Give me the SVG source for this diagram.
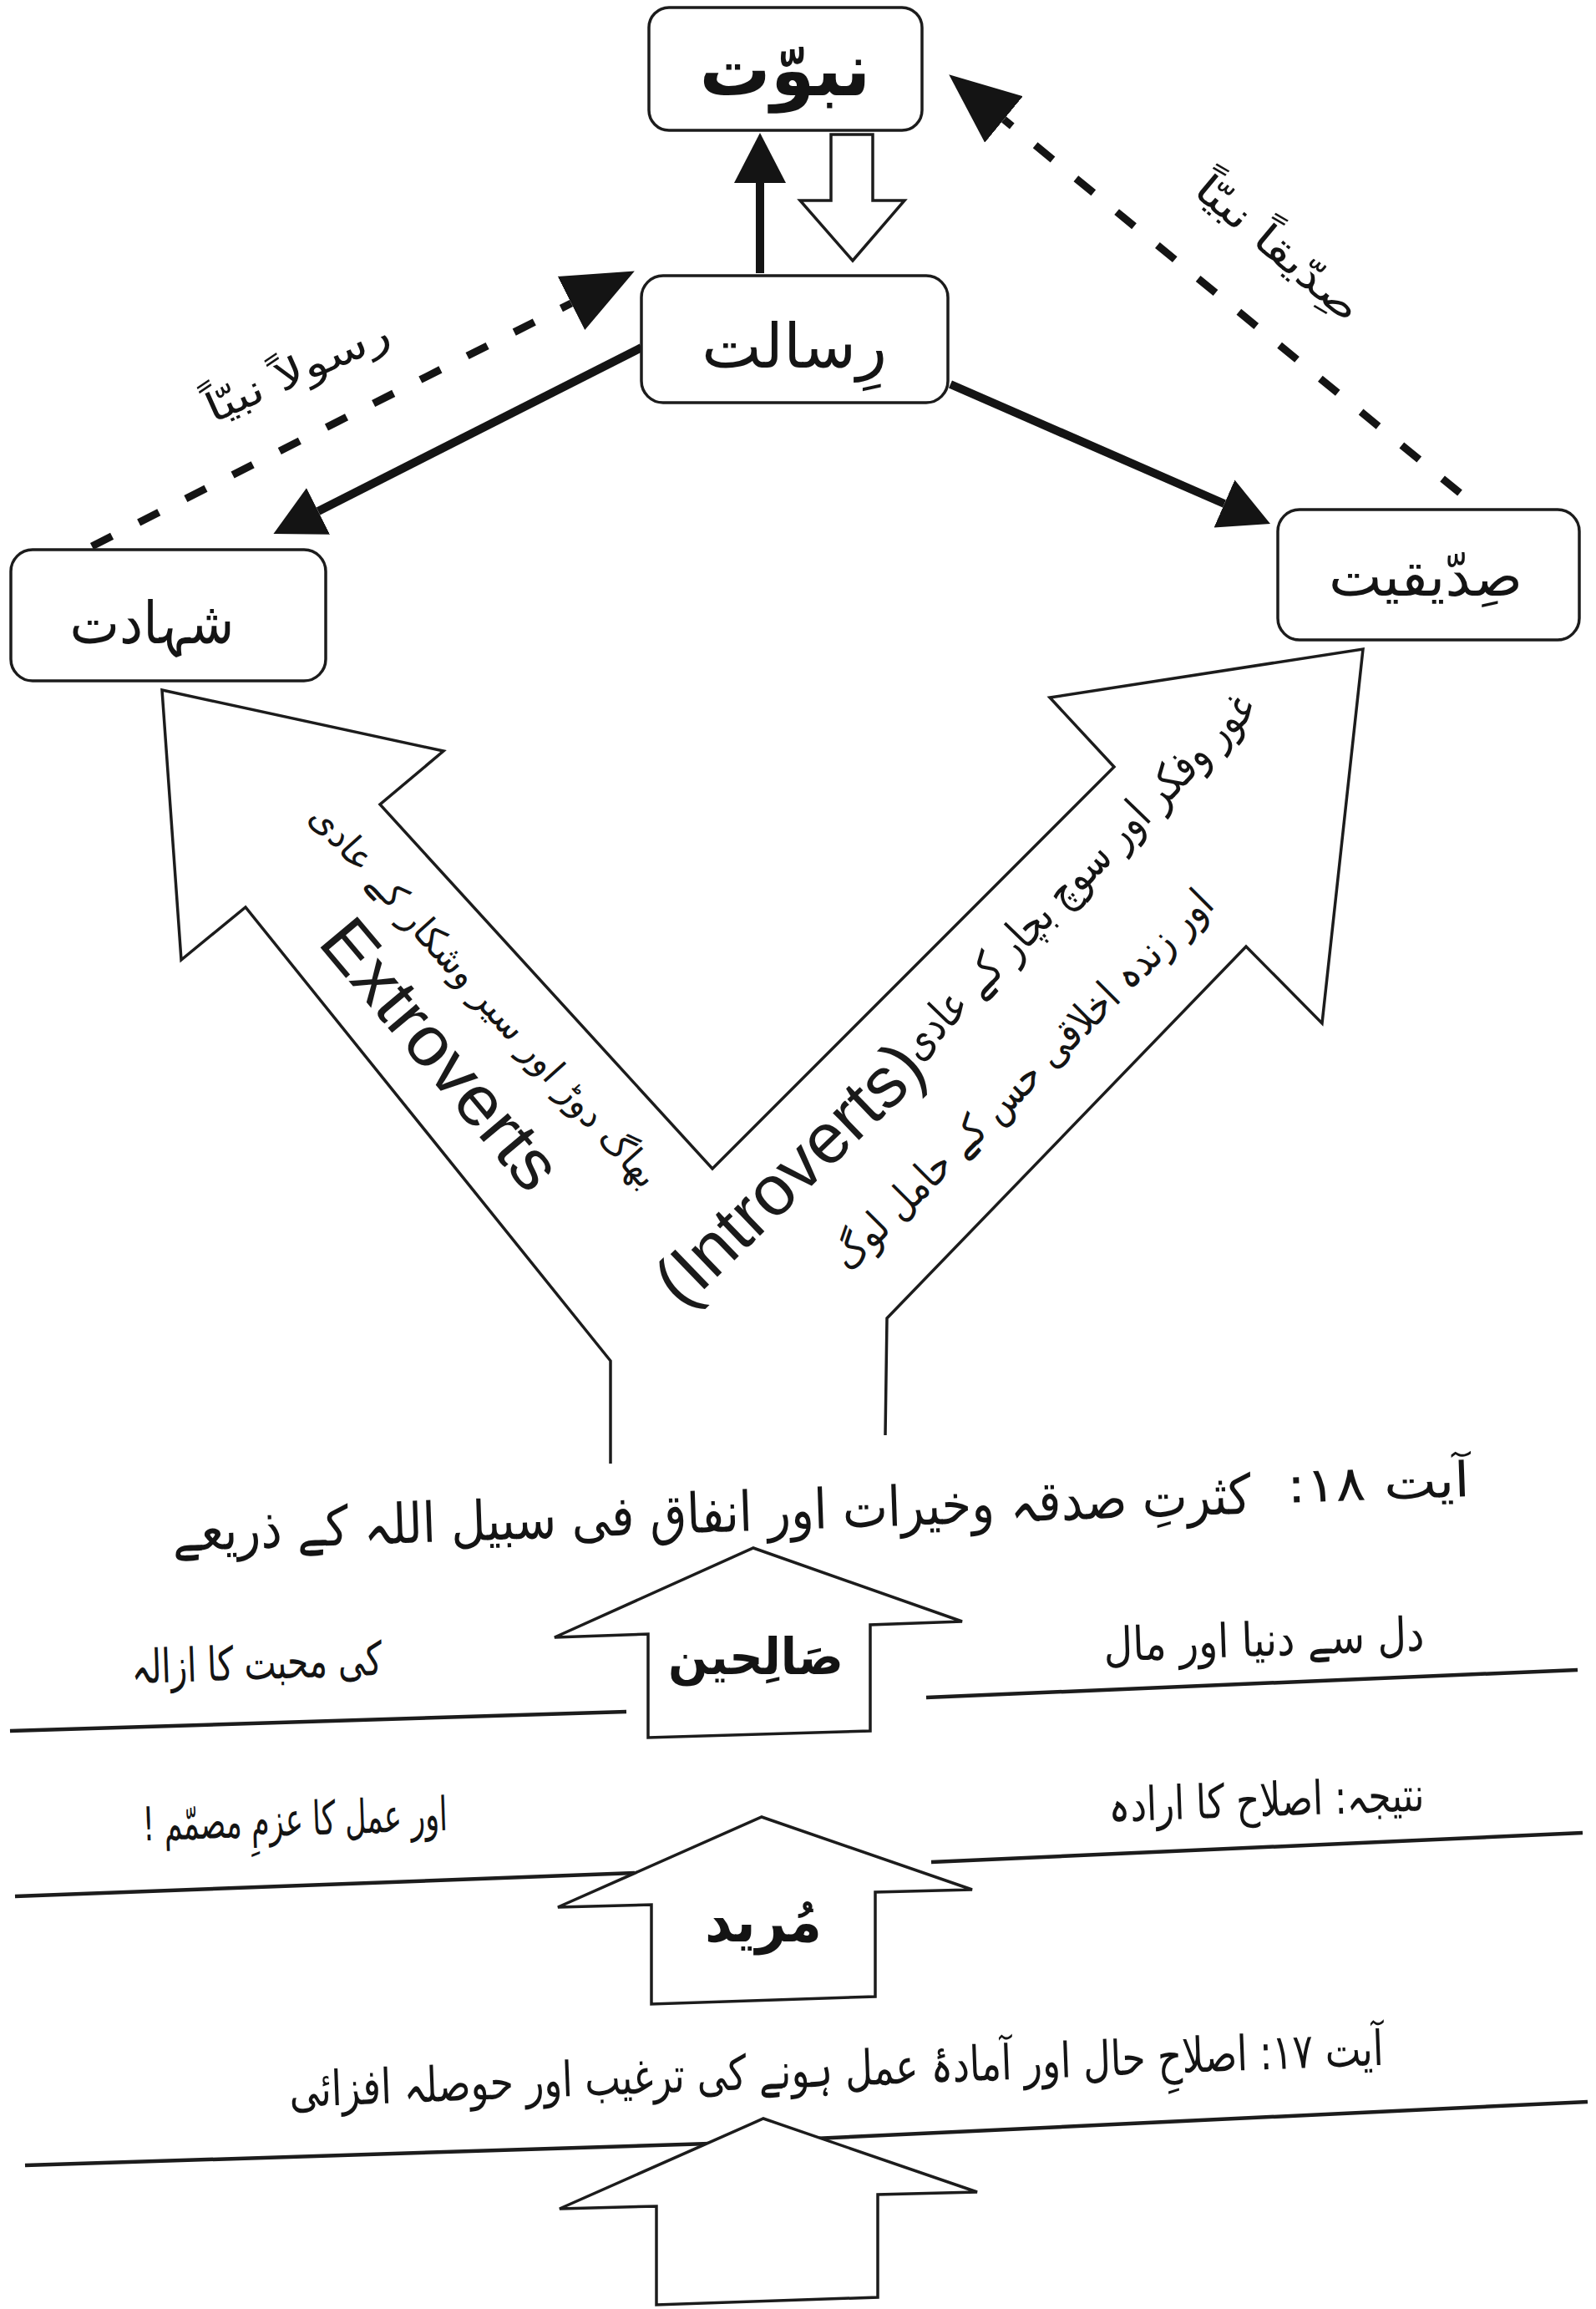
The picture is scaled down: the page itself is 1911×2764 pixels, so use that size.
<svg xmlns="http://www.w3.org/2000/svg" width="1911" height="2764" viewBox="0 0 1911 2764">
<style>
.box{fill:#fff;stroke:#1c1c1c;stroke-width:3.5}
.ur{font-family:'DejaVu Sans','Noto Sans',sans-serif;fill:#141414}
.en{font-family:'Liberation Sans',Arial,sans-serif;fill:#1a1a1a}
.solid{stroke:#141414;stroke-width:10;fill:none}
.dash{stroke:#141414;stroke-width:9;fill:none;stroke-dasharray:27 36}
.hollow{fill:#fff;stroke:#1c1c1c;stroke-width:3.5;stroke-linejoin:miter}
.rule{stroke:#1c1c1c;stroke-width:4.5;fill:none}
</style>
<defs>
<marker id="hs" markerUnits="userSpaceOnUse" viewBox="0 -33 62 66" markerWidth="62" markerHeight="66" refX="0" refY="0" orient="auto"><path d="M0,-31 L60,0 L0,31 Z" fill="#141414"/></marker>
<marker id="hd" markerUnits="userSpaceOnUse" viewBox="0 -38 88 76" markerWidth="88" markerHeight="76" refX="0" refY="0" orient="auto"><path d="M0,-36 L85,0 L0,36 Z" fill="#141414"/></marker>
</defs>
<rect width="1911" height="2764" fill="#fff"/>

<g id="connectors">
<path class="solid" d="M910,327 L910,219" marker-end="url(#hs)"/>
<path class="solid" d="M768,416 L381,612" marker-end="url(#hs)"/>
<path class="solid" d="M1138,460 L1466,603" marker-end="url(#hs)"/>
<path class="dash" d="M110,654 L684,363" marker-end="url(#hd)"/>
<path class="dash" d="M1748,590 L1202,143" marker-end="url(#hd)"/>
<polygon class="hollow" points="995,161 1045,161 1045,240 1083,240 1021,312 958,240 995,240"/>
<text class="ur" direction="rtl" text-anchor="middle" font-size="48" textLength="236" lengthAdjust="spacingAndGlyphs" transform="translate(357,446) rotate(-24)" y="14">رسولاً نبیّاً</text>
<text class="ur" direction="rtl" text-anchor="middle" font-size="48" textLength="243" lengthAdjust="spacingAndGlyphs" transform="translate(1529,299) rotate(40)" y="14">صِدّیقاً نبیّاً</text>
</g>

<g id="node-nabuwwat">
<rect class="box" x="777" y="9" width="327" height="147" rx="24"/>
<text class="ur" direction="rtl" text-anchor="middle" font-size="88" font-weight="bold" x="940" y="114" textLength="205" lengthAdjust="spacingAndGlyphs">نبوّت</text>
</g>
<g id="node-risalat">
<rect class="box" x="768" y="330" width="367" height="152" rx="26"/>
<text class="ur" direction="rtl" text-anchor="middle" font-size="74" x="951" y="440" textLength="222" lengthAdjust="spacingAndGlyphs">رِسالت</text>
</g>
<g id="node-shahadat">
<rect class="box" x="13" y="658" width="377" height="157" rx="26"/>
<text class="ur" direction="rtl" text-anchor="middle" font-size="70" x="182" y="770" textLength="197" lengthAdjust="spacingAndGlyphs">شہادت</text>
</g>
<g id="node-siddiqiyat">
<rect class="box" x="1530" y="610" width="361" height="156" rx="26"/>
<text class="ur" direction="rtl" text-anchor="middle" font-size="66" x="1707" y="713" textLength="232" lengthAdjust="spacingAndGlyphs">صِدّیقیت</text>
</g>

<g id="y-arrow">
<polyline class="hollow" points="731,1752 731,1629 294,1086 217,1149 194,826 531,899 455,963 853,1399 1334,918 1257,835 1632,777 1583,1225 1492,1133 1062,1578 1060,1718"/>
<text class="ur" direction="rtl" text-anchor="middle" font-size="44" textLength="600" lengthAdjust="spacingAndGlyphs" transform="translate(578,1194) rotate(48)" y="12">بھاگ دوڑ اور سیر وشکار کے عادی</text>
<text class="en" text-anchor="middle" font-size="84" textLength="395" lengthAdjust="spacingAndGlyphs" transform="translate(506,1280) rotate(50)">Extroverts</text>
<text class="en" text-anchor="middle" font-size="85" textLength="410" lengthAdjust="spacingAndGlyphs" transform="translate(965,1426) rotate(-44)">(Introverts)</text>
<text class="ur" direction="rtl" text-anchor="middle" font-size="54" textLength="585" lengthAdjust="spacingAndGlyphs" transform="translate(1293,1051) rotate(-46)" y="14">غور وفکر اور سوچ بچار کے عادی</text>
<text class="ur" direction="rtl" text-anchor="middle" font-size="50" textLength="620" lengthAdjust="spacingAndGlyphs" transform="translate(1228,1296) rotate(-45)" y="12">اور زندہ اخلاقی حس کے حامل لوگ</text>
</g>

<g id="ayat-18">
<text class="ur" direction="rtl" text-anchor="middle" font-size="58" x="1651" y="1795" textLength="219" lengthAdjust="spacingAndGlyphs" transform="rotate(-2 1651 1795)">آیت ۱۸:</text>
<text class="ur" direction="rtl" text-anchor="middle" font-size="66" x="853" y="1834" textLength="1292" lengthAdjust="spacingAndGlyphs" transform="rotate(-2 853 1834)">کثرتِ صدقہ وخیرات اور انفاق فی سبیل اللہ کے ذریعے</text>
</g>

<g id="rules">
<path class="rule" d="M12,2072 L750,2049"/>
<path class="rule" d="M1109,2032 L1889,1999"/>
<path class="rule" d="M18,2270 L760,2242"/>
<path class="rule" d="M1115,2229 L1895,2194"/>
<path class="rule" d="M30,2592 L850,2566"/>
<path class="rule" d="M975,2560 L1901,2516"/>
</g>

<g id="node-salihin">
<polygon class="hollow" points="902,1853 1152,1941 1042,1945 1042,2072 776,2080 776,1956 664,1960"/>
<text class="ur" direction="rtl" text-anchor="middle" font-size="60" font-weight="bold" x="905" y="2004" textLength="210" lengthAdjust="spacingAndGlyphs">صَالِحین</text>
</g>
<g id="row-1">
<text class="ur" direction="rtl" text-anchor="middle" font-size="56" x="1514" y="1982" textLength="384" lengthAdjust="spacingAndGlyphs" transform="rotate(-2 1514 1982)">دل سے دنیا اور مال</text>
<text class="ur" direction="rtl" text-anchor="middle" font-size="56" x="308" y="2010" textLength="300" lengthAdjust="spacingAndGlyphs" transform="rotate(-2 308 2010)">کی محبت کا ازالہ</text>
</g>

<g id="node-murid">
<polygon class="hollow" points="912,2175 1164,2262 1048,2265 1048,2390 780,2399 780,2280 668,2283"/>
<text class="ur" direction="rtl" text-anchor="middle" font-size="68" font-weight="bold" x="914" y="2324" textLength="140" lengthAdjust="spacingAndGlyphs">مُرید</text>
</g>
<g id="row-2">
<text class="ur" direction="rtl" text-anchor="middle" font-size="56" x="1517" y="2174" textLength="378" lengthAdjust="spacingAndGlyphs" transform="rotate(-2 1517 2174)">نتیجہ: اصلاح کا ارادہ</text>
<text class="ur" direction="rtl" text-anchor="middle" font-size="56" x="354" y="2197" textLength="365" lengthAdjust="spacingAndGlyphs" transform="rotate(-2 354 2197)">اور عمل کا عزمِ مصمّم !</text>
</g>

<g id="ayat-17">
<text class="ur" direction="rtl" text-anchor="middle" font-size="58" x="1002" y="2497" textLength="1311" lengthAdjust="spacingAndGlyphs" transform="rotate(-2.2 1002 2497)">آیت ۱۷: اصلاحِ حال اور آمادۂ عمل ہونے کی ترغیب اور حوصلہ افزائی</text>
</g>

<g id="node-bottom">
<polygon class="hollow" points="914,2536 1170,2624 1051,2627 1051,2750 786,2759 786,2641 670,2644"/>
</g>
</svg>
